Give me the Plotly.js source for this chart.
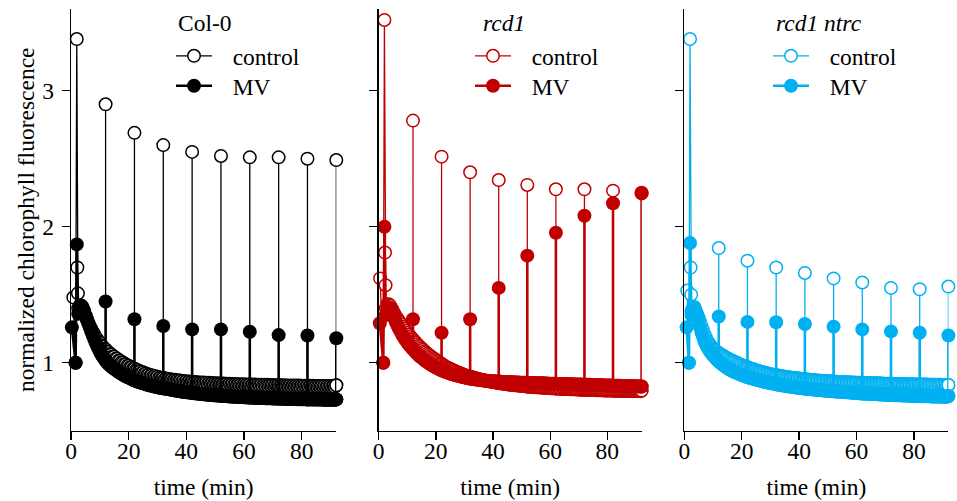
<!DOCTYPE html>
<html><head><meta charset="utf-8">
<script src="https://cdn.plot.ly/plotly-3.0.1.min.js"></script>
<style>html,body{margin:0;padding:0;background:#fff}#chart{width:957px;height:501px}</style>
</head><body><div id="chart"></div>
<script>
// ---------- data ----------
const panelTitles = ['Col-0', '<i>rcd1</i>', '<i>rcd1 ntrc</i>'];
const seriesNames = ['control', 'MV'];
const panelColors = ['#000000', '#c00000', '#00b0f0'];
const xTickVals = [0, 20, 40, 60, 80];
const yTickVals = [1, 2, 3];
const xTitle = 'time (min)';
const yTitle = 'normalized chlorophyll fluorescence';

// saturating pulses (min)
const pulseTimes = [2, 12, 22, 32, 42, 52, 62, 72, 82, 92];
// continuous record sampled every 0.5 min from 2.5 to 92 min
const recordStart = 2.5, recordStep = 0.5;

// ---- Col-0 ----
const col0ControlPre = {t: [0.8, 1.6], v: [1.48, 1.0]};
const col0ControlPost = {t: [2.2, 2.4], v: [1.70, 1.51]};
const col0ControlPeaks = [3.38, 2.90, 2.69, 2.60, 2.55, 2.52, 2.51, 2.51, 2.50, 2.49];
const col0ControlRecord = [
1.40,1.42,1.42,1.40,1.38,1.35,1.32,1.295,1.27,1.25,
1.228,1.212,1.188,1.176,1.156,1.147,1.128,1.12,1.103,1.097,
1.083,1.078,1.064,1.06,1.047,1.044,1.031,1.029,1.017,1.015,
1.003,1.001,0.99,0.989,0.978,0.977,0.966,0.966,0.955,0.955,
0.945,0.946,0.936,0.937,0.927,0.929,0.919,0.921,0.912,0.914,
0.905,0.908,0.899,0.902,0.893,0.897,0.888,0.892,0.884,0.888,
0.879,0.884,0.876,0.88,0.873,0.877,0.869,0.874,0.867,0.871,
0.864,0.869,0.861,0.866,0.859,0.864,0.857,0.862,0.855,0.86,
0.853,0.858,0.852,0.857,0.85,0.855,0.849,0.854,0.847,0.853,
0.846,0.852,0.845,0.85,0.844,0.849,0.843,0.848,0.842,0.847,
0.841,0.847,0.84,0.846,0.839,0.845,0.838,0.844,0.837,0.843,
0.837,0.842,0.836,0.842,0.835,0.841,0.835,0.84,0.834,0.84,
0.833,0.839,0.833,0.839,0.832,0.838,0.832,0.838,0.831,0.837,
0.831,0.837,0.83,0.836,0.83,0.836,0.829,0.835,0.829,0.835,
0.828,0.834,0.828,0.834,0.827,0.833,0.827,0.833,0.826,0.832,
0.826,0.832,0.826,0.832,0.825,0.831,0.825,0.831,0.824,0.83,
0.824,0.83,0.824,0.83,0.823,0.829,0.823,0.829,0.823,0.829,
0.822,0.829,0.822,0.828,0.822,0.828,0.822,0.828,0.823,0.834];

const col0MvPre = {t: [0.3, 1.6], v: [1.26, 1.0]};
const col0MvPost = {t: [], v: []};
const col0MvPeaks = [1.87, 1.45, 1.32, 1.27, 1.245, 1.245, 1.228, 1.203, 1.20, 1.18];
const col0MvRecord = [
1.36,1.40,1.42,1.41,1.38,1.35,1.32,1.29,1.26,1.23,
1.203,1.176,1.15,1.126,1.103,1.08,1.062,1.045,1.03,1.015,
1.002,0.99,0.98,0.97,0.962,0.955,0.947,0.94,0.932,0.925,
0.918,0.912,0.906,0.90,0.895,0.89,0.885,0.88,0.875,0.87,
0.866,0.862,0.858,0.855,0.851,0.848,0.845,0.842,0.838,0.835,
0.832,0.83,0.827,0.825,0.822,0.82,0.818,0.816,0.814,0.812,
0.81,0.808,0.806,0.804,0.802,0.8,0.798,0.796,0.795,0.793,
0.791,0.789,0.788,0.786,0.785,0.783,0.782,0.78,0.779,0.778,
0.776,0.775,0.774,0.773,0.771,0.77,0.769,0.768,0.767,0.766,
0.765,0.764,0.763,0.762,0.761,0.76,0.759,0.758,0.758,0.757,
0.756,0.755,0.755,0.754,0.753,0.752,0.752,0.751,0.75,0.75,
0.749,0.748,0.748,0.747,0.747,0.746,0.746,0.745,0.745,0.744,
0.744,0.743,0.743,0.742,0.742,0.741,0.741,0.741,0.74,0.74,
0.739,0.739,0.739,0.738,0.738,0.737,0.737,0.737,0.736,0.736,
0.736,0.735,0.735,0.735,0.734,0.734,0.734,0.733,0.733,0.733,
0.733,0.732,0.732,0.732,0.732,0.731,0.731,0.731,0.731,0.73,
0.73,0.73,0.73,0.73,0.729,0.729,0.729,0.729,0.729,0.729,
0.728,0.728,0.728,0.728,0.728,0.728,0.728,0.728,0.728,0.73];

// ---- rcd1 ----
const rcd1ControlPre = {t: [0.5, 1.6], v: [1.62, 1.0]};
const rcd1ControlPost = {t: [2.2, 2.4], v: [1.81, 1.57]};
const rcd1ControlPeaks = [3.52, 2.78, 2.515, 2.40, 2.343, 2.307, 2.275, 2.275, 2.265, 2.25];
const rcd1ControlRecord = [
1.40,1.43,1.43,1.42,1.40,1.38,1.36,1.34,1.325,1.31,
1.295,1.28,1.265,1.25,1.235,1.22,1.207,1.194,1.182,1.17,
1.158,1.147,1.136,1.125,1.115,1.105,1.095,1.085,1.076,1.067,
1.058,1.05,1.042,1.035,1.027,1.02,1.012,1.005,0.997,0.99,
0.983,0.977,0.971,0.965,0.96,0.955,0.95,0.945,0.94,0.935,
0.93,0.926,0.922,0.918,0.914,0.91,0.906,0.903,0.9,0.897,
0.894,0.891,0.888,0.885,0.882,0.88,0.877,0.875,0.872,0.87,
0.868,0.866,0.864,0.862,0.86,0.858,0.856,0.854,0.852,0.85,
0.849,0.847,0.846,0.844,0.843,0.841,0.84,0.839,0.837,0.836,
0.835,0.834,0.833,0.832,0.83,0.829,0.828,0.827,0.826,0.825,
0.824,0.823,0.823,0.822,0.821,0.82,0.819,0.819,0.818,0.817,
0.816,0.816,0.815,0.814,0.814,0.813,0.812,0.812,0.811,0.811,
0.81,0.81,0.809,0.808,0.808,0.807,0.807,0.806,0.806,0.805,
0.805,0.805,0.804,0.804,0.803,0.803,0.802,0.802,0.802,0.801,
0.801,0.8,0.8,0.8,0.799,0.799,0.799,0.798,0.798,0.798,
0.797,0.797,0.797,0.796,0.796,0.796,0.795,0.795,0.795,0.795,
0.794,0.794,0.794,0.794,0.793,0.793,0.793,0.793,0.792,0.792,
0.792,0.792,0.792,0.791,0.791,0.791,0.791,0.791,0.79,0.795];

const rcd1MvPre = {t: [0.4, 1.6], v: [1.29, 1.0]};
const rcd1MvPost = {t: [], v: []};
const rcd1MvPeaks = [2.0, 1.32, 1.22, 1.32, 1.55, 1.787, 1.956, 2.081, 2.172, 2.245];
const rcd1MvRecord = [
1.35,1.40,1.41,1.40,1.375,1.35,1.325,1.30,1.277,1.255,
1.235,1.215,1.197,1.18,1.165,1.15,1.136,1.123,1.111,1.10,
1.088,1.077,1.066,1.055,1.046,1.037,1.028,1.02,1.012,1.005,
0.997,0.99,0.983,0.977,0.971,0.965,0.96,0.955,0.95,0.945,
0.941,0.937,0.932,0.928,0.925,0.921,0.917,0.914,0.911,0.908,
0.905,0.902,0.9,0.897,0.894,0.892,0.89,0.888,0.886,0.884,
0.882,0.88,0.879,0.877,0.876,0.874,0.873,0.871,0.87,0.869,
0.868,0.867,0.866,0.865,0.865,0.864,0.863,0.862,0.862,0.861,
0.86,0.86,0.859,0.859,0.858,0.858,0.857,0.857,0.856,0.856,
0.855,0.855,0.854,0.854,0.853,0.853,0.853,0.852,0.852,0.851,
0.851,0.851,0.85,0.85,0.85,0.849,0.849,0.849,0.848,0.848,
0.848,0.847,0.847,0.847,0.846,0.846,0.846,0.845,0.845,0.845,
0.844,0.844,0.844,0.843,0.843,0.843,0.842,0.842,0.842,0.841,
0.841,0.841,0.84,0.84,0.84,0.839,0.839,0.839,0.838,0.838,
0.838,0.837,0.837,0.837,0.836,0.836,0.836,0.835,0.835,0.835,
0.834,0.834,0.834,0.833,0.833,0.833,0.832,0.832,0.832,0.831,
0.831,0.831,0.83,0.83,0.83,0.829,0.829,0.829,0.828,0.828,
0.828,0.827,0.827,0.827,0.826,0.826,0.826,0.825,0.825,0.825];

// ---- rcd1 ntrc ----
const ntrcControlPre = {t: [1.0, 1.6], v: [1.53, 1.0]};
const ntrcControlPost = {t: [2.2, 2.4], v: [1.70, 1.50]};
const ntrcControlPeaks = [3.38, 1.843, 1.75, 1.70, 1.66, 1.62, 1.59, 1.55, 1.54, 1.56];
const ntrcControlRecord = [
1.38,1.40,1.40,1.38,1.355,1.33,1.30,1.27,1.24,1.21,
1.185,1.16,1.145,1.13,1.117,1.105,1.096,1.087,1.078,1.07,
1.063,1.057,1.051,1.045,1.039,1.033,1.028,1.022,1.017,1.012,
1.007,1.002,0.997,0.992,0.987,0.983,0.978,0.974,0.97,0.966,
0.962,0.958,0.955,0.951,0.948,0.945,0.941,0.938,0.935,0.932,
0.929,0.926,0.924,0.921,0.919,0.916,0.914,0.912,0.91,0.908,
0.906,0.904,0.902,0.9,0.899,0.897,0.895,0.894,0.892,0.891,
0.889,0.888,0.887,0.885,0.884,0.883,0.882,0.88,0.879,0.878,
0.877,0.876,0.875,0.874,0.873,0.872,0.871,0.87,0.869,0.868,
0.867,0.867,0.866,0.865,0.864,0.864,0.863,0.862,0.862,0.861,
0.86,0.86,0.859,0.859,0.858,0.858,0.857,0.857,0.856,0.856,
0.855,0.855,0.854,0.854,0.853,0.853,0.853,0.852,0.852,0.851,
0.851,0.851,0.85,0.85,0.85,0.849,0.849,0.849,0.848,0.848,
0.848,0.847,0.847,0.847,0.846,0.846,0.846,0.845,0.845,0.845,
0.845,0.844,0.844,0.844,0.843,0.843,0.843,0.843,0.842,0.842,
0.842,0.842,0.841,0.841,0.841,0.841,0.84,0.84,0.84,0.84,
0.84,0.839,0.839,0.839,0.839,0.838,0.838,0.838,0.838,0.838,
0.837,0.837,0.837,0.837,0.837,0.836,0.836,0.836,0.836,0.836];

const ntrcMvPre = {t: [0.8, 1.6], v: [1.26, 1.0]};
const ntrcMvPost = {t: [], v: []};
const ntrcMvPeaks = [1.88, 1.34, 1.30, 1.297, 1.285, 1.265, 1.245, 1.23, 1.22, 1.20];
const ntrcMvRecord = [
1.35,1.40,1.41,1.38,1.34,1.30,1.26,1.22,1.19,1.16,
1.137,1.115,1.097,1.08,1.067,1.055,1.043,1.031,1.02,1.01,
1.001,0.992,0.983,0.975,0.968,0.961,0.954,0.948,0.942,0.937,
0.932,0.927,0.923,0.918,0.914,0.91,0.906,0.902,0.898,0.895,
0.891,0.888,0.885,0.882,0.879,0.876,0.873,0.87,0.868,0.865,
0.862,0.86,0.857,0.855,0.852,0.85,0.848,0.846,0.844,0.842,
0.84,0.838,0.836,0.834,0.832,0.83,0.829,0.827,0.825,0.824,
0.822,0.821,0.819,0.818,0.816,0.815,0.814,0.813,0.811,0.81,
0.809,0.808,0.807,0.806,0.805,0.803,0.802,0.801,0.8,0.799,
0.798,0.797,0.796,0.795,0.794,0.793,0.792,0.791,0.791,0.79,
0.789,0.788,0.787,0.786,0.786,0.785,0.784,0.783,0.782,0.782,
0.781,0.78,0.779,0.779,0.778,0.777,0.776,0.776,0.775,0.774,
0.774,0.773,0.772,0.772,0.771,0.771,0.77,0.769,0.769,0.768,
0.768,0.767,0.766,0.766,0.765,0.765,0.764,0.764,0.763,0.763,
0.762,0.762,0.761,0.761,0.76,0.76,0.76,0.759,0.759,0.758,
0.758,0.758,0.757,0.757,0.756,0.756,0.756,0.755,0.755,0.755,
0.754,0.754,0.754,0.753,0.753,0.753,0.753,0.752,0.752,0.752,
0.752,0.751,0.751,0.751,0.751,0.75,0.75,0.75,0.75,0.755];

// ---------- build ----------
const FONT = 'Liberation Serif, Times New Roman, serif';
function buildSeries(pre, post, record, peaks) {
  const x = [], y = [];
  pre.t.forEach((t, i) => { x.push(t); y.push(pre.v[i]); });
  x.push(pulseTimes[0]); y.push(peaks[0]);
  post.t.forEach((t, i) => { x.push(t); y.push(post.v[i]); });
  record.forEach((v, i) => {
    const t = recordStart + recordStep * i;
    x.push(t); y.push(v);
    const k = pulseTimes.indexOf(t);
    if (k > 0) { x.push(t); y.push(peaks[k]); x.push(t); y.push(v); }
  });
  return {x, y};
}
const panels = [
  [[col0ControlPre, col0ControlPost, col0ControlRecord, col0ControlPeaks],
   [col0MvPre, col0MvPost, col0MvRecord, col0MvPeaks]],
  [[rcd1ControlPre, rcd1ControlPost, rcd1ControlRecord, rcd1ControlPeaks],
   [rcd1MvPre, rcd1MvPost, rcd1MvRecord, rcd1MvPeaks]],
  [[ntrcControlPre, ntrcControlPost, ntrcControlRecord, ntrcControlPeaks],
   [ntrcMvPre, ntrcMvPost, ntrcMvRecord, ntrcMvPeaks]]
];

const W = 957, H = 501;
const tickFont = {family: FONT, size: 23.5, color: '#000'};
const layout = {
  width: W, height: H, margin: {l: 0, r: 0, t: 0, b: 0},
  paper_bgcolor: '#fff', plot_bgcolor: 'rgba(0,0,0,0)',
  font: {family: FONT, size: 23.5, color: '#000'},
  showlegend: true, annotations: []
};

const traces = [];
const legendLeft = [171, 470, 768];     // px, legend box left per panel
const legendRowY = [56, 86];            // px, row centres
const titleLeft = [176, 481, 774];
panels.forEach((pair, p) => {
  const c = panelColors[p];
  const sfx = p === 0 ? '' : String(p + 1);
  pair.forEach((args, s) => {
    const d = buildSeries(...args);
    const open = s === 0;
    const lg = 2 * p + s + 1;
    const lgId = lg === 1 ? 'legend' : 'legend' + lg;
    traces.push({
      type: 'scatter', mode: 'lines+markers', x: d.x, y: d.y,
      name: '\u00a0\u00a0\u2006' + seriesNames[s],
      xaxis: 'x' + sfx, yaxis: 'y' + sfx, legend: lgId,
      cliponaxis: false,
      line: {color: c, width: open ? 1.3 : 2.6},
      marker: open ? {symbol: 'circle', size: 12.5, color: '#ffffff', line: {color: c, width: 1.5}}
                   : {symbol: 'circle', size: 14, color: c, line: {width: 0}}
    });
    layout[lgId] = {
      x: legendLeft[p] / W, xanchor: 'left', y: 1 - legendRowY[s] / H, yanchor: 'middle',
      bgcolor: 'rgba(0,0,0,0)', borderwidth: 0, font: tickFont, itemwidth: 36
    };
  });
  layout.annotations.push({
    text: panelTitles[p], xref: 'paper', yref: 'paper', x: titleLeft[p] / W, y: 1 - 23 / H,
    xanchor: 'left', yanchor: 'middle', showarrow: false, font: tickFont
  });
});
// y-axis title (rotated) centred on the plot height
layout.annotations.push({
  text: yTitle, xref: 'paper', yref: 'paper', x: 26 / W, y: 1 - 220 / H,
  xanchor: 'center', yanchor: 'middle', textangle: -90, showarrow: false, font: tickFont
});

const xDom = [[71, 336.3], [378.7, 641.6], [684.3, 948.4]];
const yDom = [(H - 430.7) / H, (H - 9.1) / H];
xDom.forEach((dom, p) => {
  const sfx = p === 0 ? '' : String(p + 1);
  layout['xaxis' + sfx] = {
    domain: [dom[0] / W, dom[1] / W], range: [0, 92], anchor: 'y' + sfx,
    tickmode: 'array', tickvals: xTickVals, ticks: 'outside', ticklen: 8, tickwidth: 1.3,
    tickcolor: '#000', showline: true, linewidth: 1.3, linecolor: '#000',
    showgrid: false, zeroline: false, tickfont: tickFont, ticklabelstandoff: -9,
    title: {text: xTitle, font: tickFont, standoff: 15}
  };
  layout['yaxis' + sfx] = {
    domain: yDom, range: [0.5, 3.6], anchor: 'x' + sfx,
    tickmode: 'array', tickvals: yTickVals, ticks: 'outside', ticklen: 8, tickwidth: 1.3,
    tickcolor: '#000', showline: true, linewidth: 1.3, linecolor: '#000',
    showgrid: false, zeroline: false, tickfont: tickFont, showticklabels: p === 0,
    ticklabelstandoff: 3, title: {text: ''}
  };
});
Plotly.newPlot('chart', traces, layout, {staticPlot: true, displayModeBar: false});
</script>
</body></html>
